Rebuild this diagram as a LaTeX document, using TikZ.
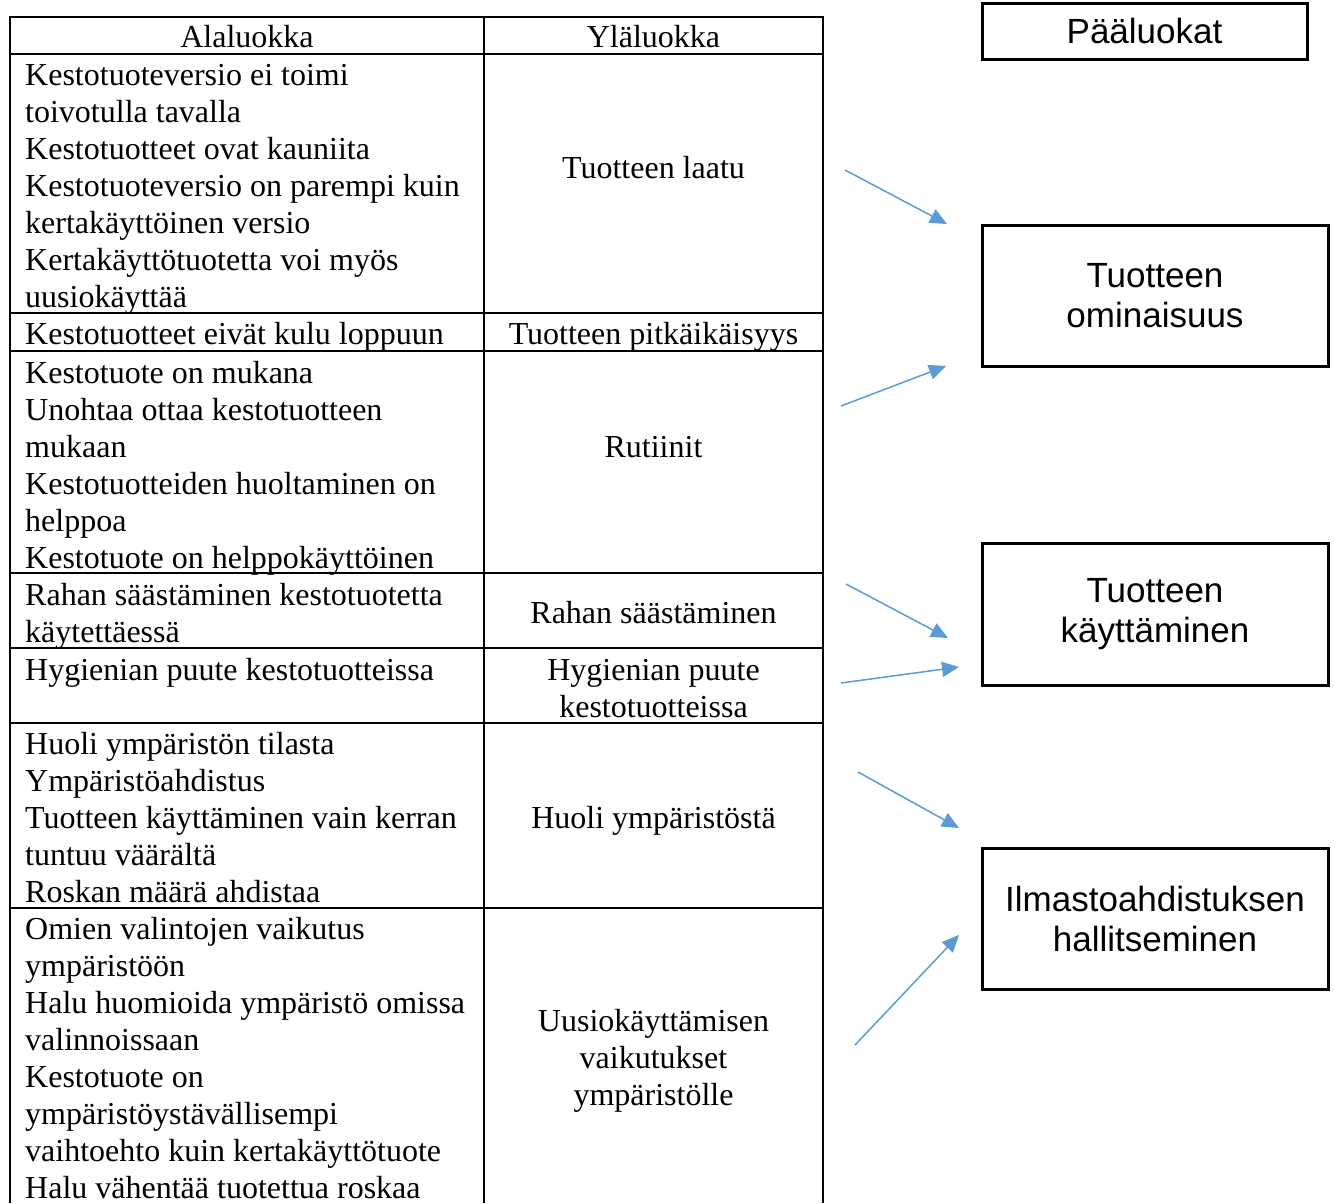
\documentclass[tikz,border=0pt]{standalone}
\usepackage{fontspec}
\setmainfont{Liberation Serif}
\newfontfamily\arialfont{Liberation Sans}
\usetikzlibrary{arrows.meta}
\definecolor{arrowblue}{HTML}{5B9BD5}
\begin{document}
\begin{tikzpicture}[x=1pt,y=-1pt,
 grid/.style={line width=2pt, black},
 lcell/.style={anchor=north west, inner sep=0pt, align=left, font=\fontsize{32}{37}\selectfont},
 rcell/.style={anchor=north, inner sep=0pt, align=center, font=\fontsize{32}{37}\selectfont},
 catbox/.style={draw, line width=3pt, inner sep=0pt, align=center, font=\arialfont\fontsize{35}{40}\selectfont},
 link/.style={arrowblue, line width=1.5pt, -{Triangle[length=17pt,width=15pt]}}]
\useasboundingbox (0,0) rectangle (1335,1203);
% table grid
\draw[grid] (10,1203) -- (10,17) -- (823,17) -- (823,1203);
\draw[grid] (484,17) -- (484,1203);
\foreach \yy in {54,313,351,573,648,723,908} \draw[grid] (10,\yy) -- (823,\yy);
% header
\node[rcell] (h1) at (247,21) {\strut Alaluokka};
\node[rcell] (h2) at (653.5,21) {\strut Yläluokka};
% rows
\node[lcell] (l1) at (25,59) {\strut Kestotuoteversio ei toimi\\toivotulla tavalla\\Kestotuotteet ovat kauniita\\Kestotuoteversio on parempi kuin\\kertakäyttöinen versio\\Kertakäyttötuotetta voi myös\\uusiokäyttää};
\node[rcell] (r1) at (653.5,152) {\strut Tuotteen laatu};
\node[lcell] (l2) at (25,318) {\strut Kestotuotteet eivät kulu loppuun};
\node[rcell] (r2) at (653.5,318) {\strut Tuotteen pitkäikäisyys};
\node[lcell] (l3) at (25,357) {\strut Kestotuote on mukana\\Unohtaa ottaa kestotuotteen\\mukaan\\Kestotuotteiden huoltaminen on\\helppoa\\Kestotuote on helppokäyttöinen};
\node[rcell] (r3) at (653.5,431) {\strut Rutiinit};
\node[lcell] (l4) at (25,579) {\strut Rahan säästäminen kestotuotetta\\käytettäessä};
\node[rcell] (r4) at (653.5,597) {\strut Rahan säästäminen};
\node[lcell] (l5) at (25,654) {\strut Hygienian puute kestotuotteissa};
\node[rcell] (r5) at (653.5,654) {\strut Hygienian puute\\kestotuotteissa};
\node[lcell] (l6) at (25,728) {\strut Huoli ympäristön tilasta\\Ympäristöahdistus\\Tuotteen käyttäminen vain kerran\\tuntuu väärältä\\Roskan määrä ahdistaa};
\node[rcell] (r6) at (653.5,802) {\strut Huoli ympäristöstä};
\node[lcell] (l7) at (25,913) {\strut Omien valintojen vaikutus\\ympäristöön\\Halu huomioida ympäristö omissa\\valinnoissaan\\Kestotuote on\\ympäristöystävällisempi\\vaihtoehto kuin kertakäyttötuote\\Halu vähentää tuotettua roskaa};
\node[rcell] (r7) at (653.5,1005) {\strut Uusiokäyttämisen\\vaikutukset\\ympäristölle};
% category boxes
\node[catbox, minimum width=325pt, minimum height=56pt] (paa) at (1144.5,31) {Pääluokat};
\node[catbox, minimum width=346pt, minimum height=141pt] (omin) at (1155,296) {Tuotteen\\ominaisuus};
\node[catbox, minimum width=346pt, minimum height=142pt] (kayt) at (1155,614) {Tuotteen\\käyttäminen};
\node[catbox, minimum width=346pt, minimum height=141pt] (ilm) at (1155,918.5) {Ilmastoahdistuksen\\hallitseminen};
% arrows
\coordinate (a1s) at (845,170); \coordinate (a1e) at (947,224);
\coordinate (a2s) at (841,406); \coordinate (a2e) at (946,366);
\coordinate (a3s) at (846,584); \coordinate (a3e) at (948,638);
\coordinate (a4s) at (841,683); \coordinate (a4e) at (959,667);
\coordinate (a5s) at (858,772); \coordinate (a5e) at (959,828);
\coordinate (a6s) at (855,1045); \coordinate (a6e) at (959,935);
\draw[link] (a1s) -- (a1e);
\draw[link] (a2s) -- (a2e);
\draw[link] (a3s) -- (a3e);
\draw[link] (a4s) -- (a4e);
\draw[link] (a5s) -- (a5e);
\draw[link] (a6s) -- (a6e);
\end{tikzpicture}
\end{document}
